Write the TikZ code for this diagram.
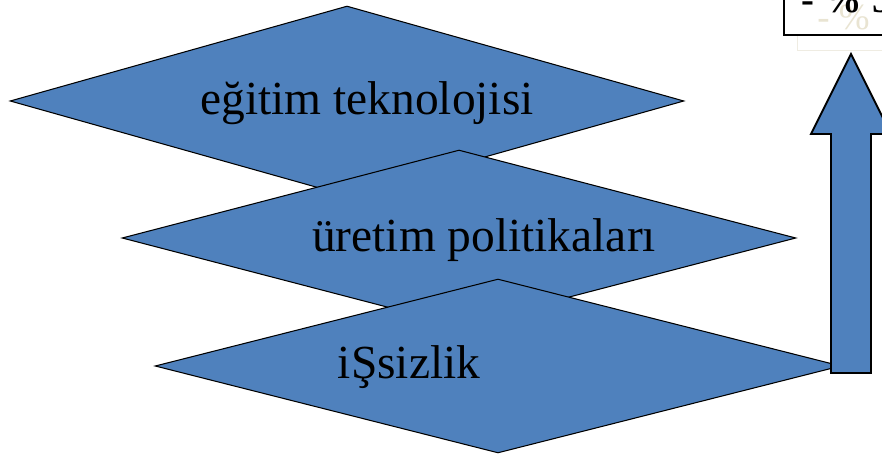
\documentclass[tikz,border=0pt]{standalone}
\usepackage{fontspec}
\setmainfont{Liberation Serif}
\usepackage{xcolor}
\usepackage{tikz}
\usetikzlibrary{shapes.geometric}
\definecolor{ofBlue}{HTML}{4F81BD}
\definecolor{ghost}{HTML}{E9E4D2}
\definecolor{ghostLine}{HTML}{EFECE2}

\begin{document}
\begin{tikzpicture}[x=0.02cm, y=-0.02cm,
    layer/.style 2 args={diamond, draw=black, fill=ofBlue, line width=0.6pt,
                  inner sep=0pt, minimum width=#1, minimum height=#2},
    caption/.style={font=\fontsize{27}{30}\selectfont, text=black,
                  inner sep=0pt},
    risebox/.style={draw=black, fill=ofBlue, line width=1.1pt,
                  line join=miter},
  ]
    \useasboundingbox (0,0) rectangle (882,455);
    \clip (0,0) rectangle (882,455);

    % --- top-right label box (cut off by the page edge) --------------------
    \node[draw=ghostLine, line width=0.8pt, minimum width=3cm,
          minimum height=2cm, anchor=south west] (gbox) at (797,51) {};
    \node[draw=black, fill=white, line width=0.9pt, minimum width=3cm,
          minimum height=2cm, anchor=south west] (tbox) at (783,36) {};
    \node[anchor=base west, inner sep=0pt, text=ghost,
          font=\fontsize{21}{24}\selectfont] (gtxt) at (817,30) {- \%};
    \node[anchor=base west, inner sep=0pt,
          font=\bfseries\fontsize{22}{24}\selectfont] (ttxt) at (801,13) {- \% 5};

    % --- three stacked layers, drawn back to front ------------------------
    \node[layer={13.48cm}{3.80cm}] (d1) at (347,101) {};
    \node[caption] (t1) at (367,103) {eğitim teknolojisi};
    \node[layer={13.48cm}{3.52cm}] (d2) at (459,238) {};
    \node[caption] (t2) at (484,240) {üretim politikaları};
    \node[layer={13.72cm}{3.48cm}] (d3) at (498,366) {};
    \node[caption] (t3) at (409,367) {iŞsizlik};

    % --- upward block arrow ------------------------------------------------
    \coordinate (tip) at (851,54);
    \draw[risebox] (831,373) -- (831,134) -- (811,134) -- (tip)
                   -- (891,134) -- (871,134) -- (871,373) -- cycle;
  \end{tikzpicture}
\end{document}
